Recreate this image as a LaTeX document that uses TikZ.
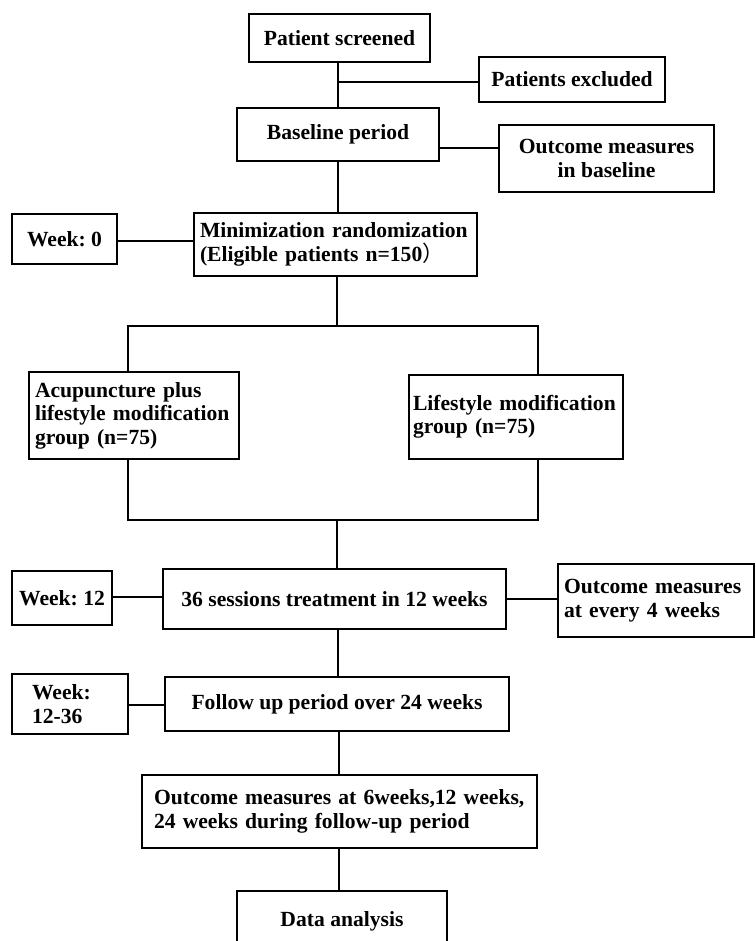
\documentclass[tikz,border=0pt]{standalone}
\usepackage{fontspec}
\setmainfont{Liberation Serif}
\newfontfamily\cjk{Noto Sans CJK SC}
\frenchspacing
\begin{document}
\begin{tikzpicture}[x=1pt,y=-1pt,
  box/.style={draw, line width=2.2pt, rectangle, inner sep=0pt,
    font=\fontsize{21.6}{23.5}\selectfont\bfseries\frenchspacing},
  cbox/.style={box, align=center},
  lbox/.style={box, align=left},
  link/.style={line width=2.2pt}]
\clip (0,0) rectangle (755,941);
\fill[white] (0,0) rectangle (755,941);
% boxes
\node[cbox, minimum width=181, minimum height=48] (scr) at (339.5,38) {Patient screened};
\node[cbox, minimum width=186, minimum height=45] (excl) at (572,79.5) {Patients excluded};
\node[cbox, minimum width=202, minimum height=53] (base) at (338,134.5) {Baseline period};
\node[cbox, minimum width=215, minimum height=67] (obase) at (606.5,158.5) {Outcome measures\\in baseline};
\node[cbox, minimum width=105, minimum height=50] (wk0) at (64.5,239) {Week: 0};
\node[lbox, minimum width=283, minimum height=63, text width=271] (rand) at (335.5,244.5)
  {Minimization randomization\\(Eligible patients n=150{\cjk\mdseries ）}};
\node[lbox, minimum width=210, minimum height=87, text width=198] (acu) at (134,415.5)
  {Acupuncture plus\\lifestyle modification\\group (n=75)};
\node[lbox, minimum width=214, minimum height=84, text width=206] (life) at (516,417)
  {Lifestyle modification\\group (n=75)};
\node[cbox, minimum width=100, minimum height=54] (wk12) at (62,598) {Week: 12};
\node[cbox, minimum width=343, minimum height=60] (treat) at (334.5,599) {36 sessions treatment in 12 weeks};
\node[lbox, minimum width=196, minimum height=73, text width=184] (o4) at (656,600.5)
  {Outcome measures\\at every 4 weeks};
\node[lbox, minimum width=116, minimum height=60, text width=76] (wk1236) at (70,704) {Week:\\12-36};
\node[cbox, minimum width=344, minimum height=54] (follow) at (337,704) {Follow up period over 24 weeks};
\node[lbox, minimum width=395, minimum height=73, text width=371] (om) at (339.5,811.5)
  {Outcome measures at 6weeks,12 weeks,\\24 weeks during follow-up period};
\node[cbox, minimum width=210, minimum height=60] (data) at (342,921) {Data analysis};
% connectors
\coordinate (j1) at (338,82);
\draw[link] (scr.south -| 338,0) -- (base.north -| 338,0);
\draw[link] (j1) -- (excl.west |- j1);
\draw[link] (base.east |- 0,148) -- (obase.west |- 0,148);
\draw[link] (base.south -| 338,0) -- (rand.north -| 338,0);
\draw[link] (wk0.east |- 0,241) -- (rand.west |- 0,241);
\coordinate (s1) at (337,326);
\coordinate (sL) at (128,326);
\coordinate (sR) at (538,326);
\draw[link] (rand.south -| s1) -- (s1);
\draw[link] (acu.north -| sL) -- (sL) -- (sR) -- (life.north -| sR);
\coordinate (mL) at (128,520);
\coordinate (mR) at (538,520);
\coordinate (m1) at (337,520);
\draw[link] (acu.south -| mL) -- (mL) -- (mR) -- (life.south -| mR);
\draw[link] (m1) -- (treat.north -| m1);
\draw[link] (wk12.east |- 0,597) -- (treat.west |- 0,597);
\draw[link] (treat.east |- 0,599) -- (o4.west |- 0,599);
\draw[link] (treat.south -| 338,0) -- (follow.north -| 338,0);
\draw[link] (wk1236.east |- 0,705) -- (follow.west |- 0,705);
\draw[link] (follow.south -| 339,0) -- (om.north -| 339,0);
\draw[link] (om.south -| 339,0) -- (data.north -| 339,0);
\end{tikzpicture}
\end{document}
